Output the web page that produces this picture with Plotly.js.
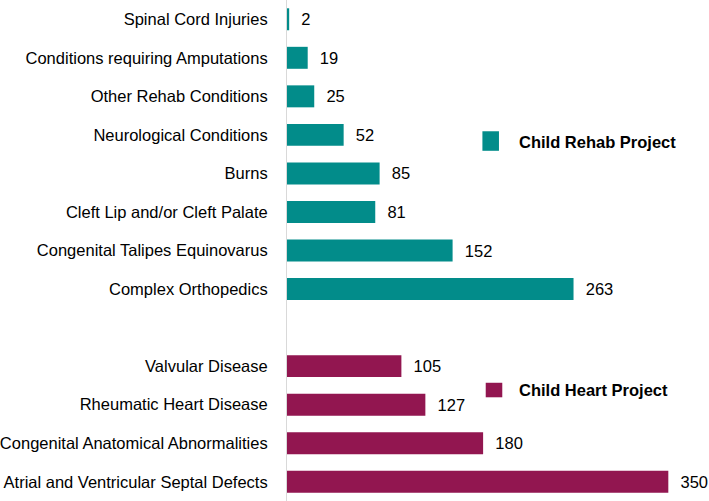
<!DOCTYPE html>
<html>
<head>
<meta charset="utf-8">
<script src="https://cdn.plot.ly/plotly-3.0.1.min.js"></script>
<style>
  html, body { margin: 0; padding: 0; background: #fff; }
  #chart { width: 709px; height: 501px; }
</style>
</head>
<body>
<div id="chart"></div>
<script>
const rehabLabels = [
  'Spinal Cord Injuries',
  'Conditions requiring Amputations',
  'Other Rehab Conditions',
  'Neurological Conditions',
  'Burns',
  'Cleft Lip and/or Cleft Palate',
  'Congenital Talipes Equinovarus',
  'Complex Orthopedics'
];
const rehabValues = [2, 19, 25, 52, 85, 81, 152, 263];

const heartLabels = [
  'Valvular Disease',
  'Rheumatic Heart Disease',
  'Congenital Anatomical Abnormalities',
  'Atrial and Ventricular Septal Defects'
];
const heartValues = [105, 127, 180, 350];

const rehabColor = '#028c8a';
const heartColor = '#921650';

// rows top-to-bottom, one empty row between the two groups
const rehabPos = rehabLabels.map((_, i) => i);
const heartPos = heartLabels.map((_, i) => rehabLabels.length + 1 + i);
const pad = '\u00a0\u00a0';
const fam = 'Liberation Sans, Arial, sans-serif';

const traces = [
  {
    type: 'bar', orientation: 'h',
    x: rehabValues, y: rehabPos,
    marker: { color: rehabColor },
    text: rehabValues.map(v => pad + v),
    textposition: 'outside',
    textfont: { family: fam, size: 16.5, color: '#000' },
    cliponaxis: false,
    hoverinfo: 'x'
  },
  {
    type: 'bar', orientation: 'h',
    x: heartValues, y: heartPos,
    marker: { color: heartColor },
    text: heartValues.map(v => pad + v),
    textposition: 'outside',
    textfont: { family: fam, size: 16.5, color: '#000' },
    cliponaxis: false,
    hoverinfo: 'x'
  }
];

const keyFont = { family: fam, size: 16.5, color: '#000' };

const layout = {
  width: 709, height: 501,
  margin: { t: 0, r: 8, b: 0, l: 287 },
  paper_bgcolor: '#fff', plot_bgcolor: '#fff',
  showlegend: false,
  barmode: 'overlay',
  bargap: 0.43,
  font: { family: fam, size: 16.5, color: '#000' },
  xaxis: {
    range: [0, 380], visible: false, showgrid: false, zeroline: false
  },
  yaxis: {
    range: [12.5, -0.5],
    tickvals: rehabPos.concat(heartPos),
    ticktext: rehabLabels.concat(heartLabels),
    tickfont: { family: fam, size: 16.5, color: '#000' },
    showline: true, linecolor: '#d9d9d9', linewidth: 1,
    showgrid: false, zeroline: false, ticks: '',
    ticklabelstandoff: 15
  },
  shapes: [
    { type: 'rect', xref: 'paper', yref: 'paper', x0: 0.472, x1: 0.512, y0: 0.699, y1: 0.738,
      fillcolor: rehabColor, line: { width: 0 } },
    { type: 'rect', xref: 'paper', yref: 'paper', x0: 0.480, x1: 0.520, y0: 0.207, y1: 0.236,
      fillcolor: heartColor, line: { width: 0 } }
  ],
  annotations: [
    { xref: 'paper', yref: 'paper', x: 0.555, y: 0.716, xanchor: 'left', yanchor: 'middle',
      text: '<b>Child Rehab Project</b>', showarrow: false, font: keyFont },
    { xref: 'paper', yref: 'paper', x: 0.555, y: 0.222, xanchor: 'left', yanchor: 'middle',
      text: '<b>Child Heart Project</b>', showarrow: false, font: keyFont }
  ]
};

Plotly.newPlot('chart', traces, layout, { displayModeBar: false, staticPlot: true });
</script>
</body>
</html>
